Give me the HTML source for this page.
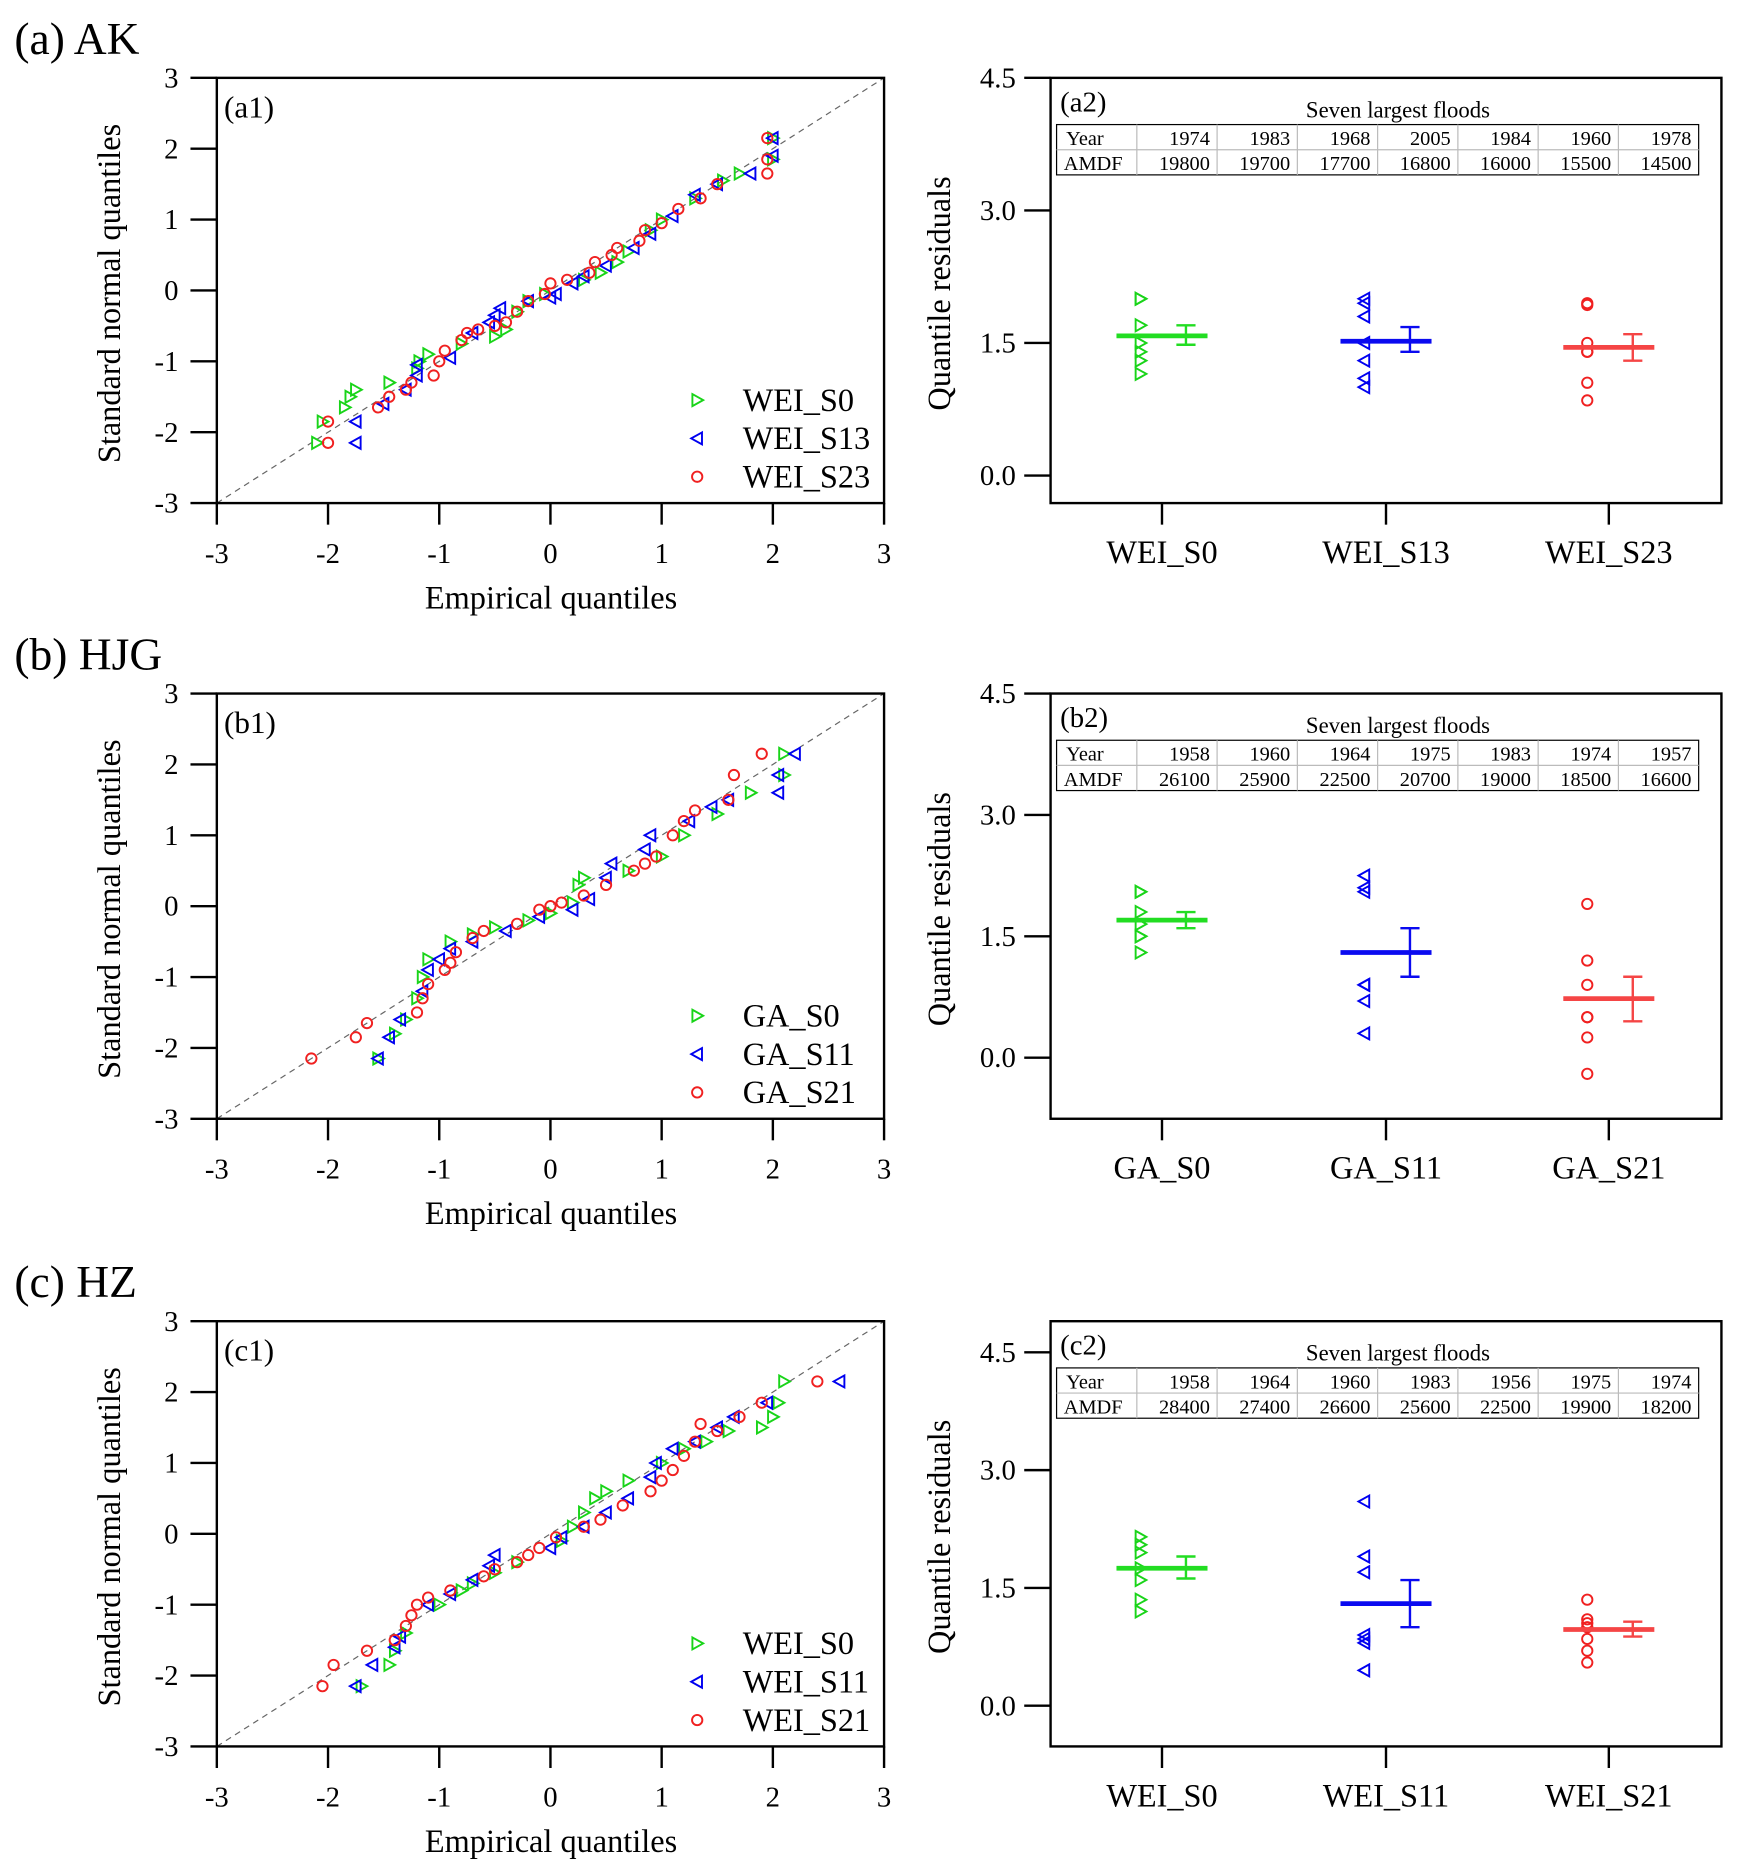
<!DOCTYPE html>
<html><head><meta charset="utf-8">
<style>
html,body{margin:0;padding:0;background:#fff;}
svg{display:block;font-family:"Liberation Serif","Times New Roman",serif;}
text{font-family:"Liberation Serif","Times New Roman",serif;fill:#000;}
</style></head>
<body>
<svg id="fig" font-family="Liberation Serif, serif" width="1737" height="1871" viewBox="0 0 1450 1562" preserveAspectRatio="none" xmlns="http://www.w3.org/2000/svg"></svg>
<script>
// ---- Data ----
const a1Green=[[-2.1,-2.15],[-2.05,-1.85],[-1.85,-1.65],[-1.8,-1.5],[-1.75,-1.4],[-1.45,-1.3],[-1.2,-1.1],[-1.18,-1.0],[-1.1,-0.9],[-0.8,-0.75],[-0.5,-0.65],[-0.4,-0.55],[-0.3,-0.3],[-0.2,-0.15],[-0.05,-0.05],[0.3,0.15],[0.45,0.25],[0.6,0.4],[0.7,0.55],[0.9,0.85],[1.0,1.0],[1.3,1.3],[1.55,1.55],[1.7,1.65],[2.0,1.85],[2.0,2.15]];
const a1Blue=[[-1.75,-2.15],[-1.75,-1.85],[-1.5,-1.6],[-1.3,-1.4],[-1.2,-1.2],[-1.2,-1.05],[-0.9,-0.95],[-0.7,-0.6],[-0.55,-0.45],[-0.5,-0.35],[-0.45,-0.25],[-0.2,-0.15],[0,-0.1],[0.05,-0.05],[0.2,0.1],[0.3,0.2],[0.5,0.35],[0.75,0.6],[0.9,0.8],[1.1,1.05],[1.3,1.35],[1.5,1.5],[1.8,1.65],[2.0,1.9],[2.0,2.15]];
const a1Red=[[-2.0,-2.15],[-2.0,-1.85],[-1.55,-1.65],[-1.45,-1.5],[-1.3,-1.4],[-1.25,-1.3],[-1.05,-1.2],[-1.0,-1.0],[-0.95,-0.85],[-0.8,-0.7],[-0.75,-0.6],[-0.65,-0.55],[-0.5,-0.5],[-0.4,-0.45],[-0.3,-0.3],[-0.2,-0.15],[-0.05,-0.05],[0.0,0.1],[0.15,0.15],[0.35,0.25],[0.4,0.4],[0.55,0.5],[0.6,0.6],[0.8,0.7],[0.85,0.85],[1.0,0.95],[1.15,1.15],[1.35,1.3],[1.5,1.5],[1.95,1.65],[1.95,1.85],[1.95,2.15]];
const b1Green=[[-1.55,-2.15],[-1.4,-1.8],[-1.3,-1.6],[-1.2,-1.3],[-1.15,-1.0],[-1.1,-0.75],[-0.9,-0.5],[-0.7,-0.4],[-0.5,-0.3],[-0.2,-0.2],[0.0,-0.1],[0.2,0.05],[0.25,0.3],[0.3,0.4],[0.7,0.5],[1.0,0.7],[1.2,1.0],[1.5,1.3],[1.8,1.6],[2.1,1.85],[2.1,2.15]];
const b1Blue=[[-1.55,-2.15],[-1.45,-1.85],[-1.35,-1.6],[-1.15,-1.2],[-1.1,-0.9],[-1.0,-0.75],[-0.9,-0.6],[-0.7,-0.5],[-0.4,-0.35],[-0.1,-0.15],[0.2,-0.05],[0.35,0.1],[0.5,0.4],[0.55,0.6],[0.85,0.8],[0.9,1.0],[1.25,1.2],[1.45,1.4],[1.6,1.5],[2.05,1.6],[2.05,1.85],[2.2,2.15]];
const b1Red=[[-2.15,-2.15],[-1.75,-1.85],[-1.65,-1.65],[-1.2,-1.5],[-1.15,-1.3],[-1.1,-1.1],[-0.95,-0.9],[-0.9,-0.8],[-0.85,-0.65],[-0.7,-0.45],[-0.6,-0.35],[-0.3,-0.25],[-0.1,-0.05],[0,0],[0.1,0.05],[0.3,0.15],[0.5,0.3],[0.75,0.5],[0.85,0.6],[0.95,0.7],[1.1,1.0],[1.2,1.2],[1.3,1.35],[1.6,1.5],[1.65,1.85],[1.9,2.15]];
const c1Green=[[-1.7,-2.15],[-1.45,-1.85],[-1.4,-1.65],[-1.3,-1.4],[-1.0,-1.0],[-0.8,-0.8],[-0.7,-0.7],[-0.5,-0.55],[-0.3,-0.4],[0.1,-0.1],[0.2,0.1],[0.3,0.3],[0.4,0.5],[0.5,0.6],[0.7,0.75],[1.0,1.0],[1.2,1.2],[1.4,1.3],[1.6,1.45],[1.9,1.5],[2.0,1.65],[2.05,1.85],[2.1,2.15]];
const c1Blue=[[-1.75,-2.15],[-1.6,-1.85],[-1.4,-1.6],[-1.35,-1.45],[-1.1,-1.0],[-0.9,-0.85],[-0.7,-0.65],[-0.55,-0.45],[-0.5,-0.3],[0.0,-0.2],[0.1,-0.05],[0.3,0.1],[0.5,0.3],[0.7,0.5],[0.9,0.8],[0.95,1.0],[1.1,1.2],[1.3,1.3],[1.5,1.5],[1.65,1.65],[1.95,1.85],[2.6,2.15]];
const c1Red=[[-2.05,-2.15],[-1.95,-1.85],[-1.65,-1.65],[-1.4,-1.5],[-1.3,-1.3],[-1.25,-1.15],[-1.2,-1.0],[-1.1,-0.9],[-0.9,-0.8],[-0.6,-0.6],[-0.5,-0.5],[-0.3,-0.4],[-0.2,-0.3],[-0.1,-0.2],[0.05,-0.05],[0.3,0.1],[0.45,0.2],[0.65,0.4],[0.9,0.6],[1.0,0.75],[1.1,0.9],[1.2,1.1],[1.3,1.3],[1.35,1.55],[1.5,1.45],[1.7,1.65],[1.9,1.85],[2.4,2.15]];

const qqTicks=[-3,-2,-1,0,1,2,3];
const resTicks=[0,1.5,3,4.5];
const resTickLabels=["0.0","1.5","3.0","4.5"];

const a2Res=[[2.0,2.0,1.7,1.5,1.4,1.3,1.15],[2.0,1.95,1.8,1.5,1.3,1.1,1.0],[1.95,1.93,1.5,1.4,1.4,1.05,0.85]];
const a2Mean=[1.58,1.52,1.45];
const a2Lo=[1.48,1.4,1.3];
const a2Hi=[1.7,1.68,1.6];
const b2Res=[[2.05,2.05,1.8,1.65,1.5,1.5,1.3],[2.25,2.1,2.05,0.9,0.9,0.7,0.3],[1.9,1.2,0.9,0.5,0.5,0.25,-0.2]];
const b2Mean=[1.7,1.3,0.73];
const b2Lo=[1.6,1.0,0.45];
const b2Hi=[1.8,1.6,1.0];
const c2Res=[[2.15,2.05,1.95,1.75,1.6,1.35,1.2],[2.6,1.9,1.7,0.9,0.85,0.8,0.45],[1.35,1.1,1.05,1.0,0.85,0.7,0.55]];
const c2Mean=[1.75,1.3,0.97];
const c2Lo=[1.62,1.0,0.88];
const c2Hi=[1.9,1.6,1.07];

const aYears=["1974","1983","1968","2005","1984","1960","1978"];
const aAmdf=["19800","19700","17700","16800","16000","15500","14500"];
const bYears=["1958","1960","1964","1975","1983","1974","1957"];
const bAmdf=["26100","25900","22500","20700","19000","18500","16600"];
const cYears=["1958","1964","1960","1983","1956","1975","1974"];
const cAmdf=["28400","27400","26600","25600","22500","19900","18200"];

const aCats=["WEI_S0","WEI_S13","WEI_S23"];
const bCats=["GA_S0","GA_S11","GA_S21"];
const cCats=["WEI_S0","WEI_S11","WEI_S21"];

// ---- Drawing ----
const NS="http://www.w3.org/2000/svg";
const svg=document.getElementById('fig');
const FONT='Liberation Serif, serif';
const COL=["#19d419","#0000f0","#f02020"];
const MCOL=["#22dd22","#0a0af0","#f54545"];
function el(tag,attrs,parent,txt){const e=document.createElementNS(NS,tag);for(const k in attrs)e.setAttribute(k,attrs[k]);if(tag==='text')e.setAttribute('font-family',FONT);if(txt!==undefined)e.textContent=txt;(parent||svg).appendChild(e);return e;}

function marker(g,kind,x,y,c){
  let m;
  if(kind===0){m=el('polygon',{points:`${x-4},${y-5} ${x+5},${y} ${x-4},${y+5}`,fill:'none',stroke:c,'stroke-width':1.6},g);}
  else if(kind===1){m=el('polygon',{points:`${x+4},${y-5} ${x-5},${y} ${x+4},${y+5}`,fill:'none',stroke:c,'stroke-width':1.6},g);}
  else {m=el('circle',{cx:x,cy:y,r:4.3,fill:'none',stroke:c,'stroke-width':1.6},g);}
  return m;
}

function qqPanel(id,top,tag,series,names){
  const L=181,R=738,T=top,B=top+355;
  const sx=v=>L+(v+3)/6*(R-L), sy=v=>B-(v+3)/6*(B-T);
  const g=el('g',{},svg);
  
  
  const dl=el('line',{x1:sx(-3),y1:sy(-3),x2:sx(3),y2:sy(3),stroke:'#666','stroke-width':1,'stroke-dasharray':'5,4'},g);
  
  
  qqTicks.forEach(t=>{
    el('line',{x1:sx(t),y1:B,x2:sx(t),y2:B+18,stroke:'#000','stroke-width':2},g);
    const xl=el('text',{x:sx(t),y:B+50,'font-size':24,'text-anchor':'middle'},g,String(t));
    
    
    el('line',{x1:L-22,y1:sy(t),x2:L,y2:sy(t),stroke:'#000','stroke-width':2},g);
    const yl=el('text',{x:L-32,y:sy(t)+8,'font-size':24,'text-anchor':'end'},g,String(t));
    
    
  });
  series.forEach((s,k)=>{
    s.forEach(p=>{
      const m=marker(g,k,sx(p[0]),sy(p[1]),COL[k]);
      
      
    });
    const ly=T+269+k*32;
    const lm=marker(g,k,582,ly,COL[k]);
    
    
    const lt=el('text',{x:620,y:ly+9,'font-size':27},g,names[k]);
    
    
  });
  const box=el('rect',{x:L,y:T,width:R-L,height:B-T,fill:'none',stroke:'#000','stroke-width':2},g);
  
  
  const pl=el('text',{x:187,y:T+33,'font-size':26},g,'('+tag+'1)');
  
  
  const xt=el('text',{x:460,y:B+88,'font-size':27,'text-anchor':'middle'},g,'Empirical quantiles');
  
  
  const yt=el('text',{x:0,y:0,'font-size':27,'text-anchor':'middle',transform:`translate(100,${T+180}) rotate(-90)`},g,'Standard normal quantiles');
  
  
}

function resPanel(id,top,tag,y0px,y45px,res,mean,lo,hi,years,amdf,cats){
  const L=877,R=1437,T=top,B=top+355;
  const sy=v=>y0px+(y45px-y0px)*v/4.5;
  const catX=[970,1157,1343];
  const g=el('g',{},svg);
  
  
  resTicks.forEach((t,i)=>{
    el('line',{x1:L-22,y1:sy(t),x2:L,y2:sy(t),stroke:'#000','stroke-width':2},g);
    const yl=el('text',{x:L-29,y:sy(t)+8,'font-size':24,'text-anchor':'end'},g,resTickLabels[i]);
    
    
  });
  cats.forEach((c,i)=>{
    const cx=catX[i];
    el('line',{x1:cx,y1:B,x2:cx,y2:B+18,stroke:'#000','stroke-width':2},g);
    const cl=el('text',{x:cx,y:B+50,'font-size':27,'text-anchor':'middle'},g,c);
    
    
    res[i].forEach(v=>{
      const m=marker(g,i,cx-18,sy(v),COL[i]);
      
      
    });
    const ml=el('line',{x1:cx-38,y1:sy(mean[i]),x2:cx+38,y2:sy(mean[i]),stroke:MCOL[i],'stroke-width':4},g);
    
    
    const ex=cx+20;
    const eb=el('path',{d:`M${ex},${sy(lo[i])}V${sy(hi[i])}M${ex-8},${sy(lo[i])}H${ex+8}M${ex-8},${sy(hi[i])}H${ex+8}`,stroke:MCOL[i],'stroke-width':2,fill:'none'},g);
    
    
  });
  const box=el('rect',{x:L,y:T,width:R-L,height:B-T,fill:'none',stroke:'#000','stroke-width':2},g);
  
  
  const pl=el('text',{x:885,y:T+28,'font-size':24},g,'('+tag+'2)');
  
  
  const tt=el('text',{x:1167,y:T+33,'font-size':19,'text-anchor':'middle'},g,'Seven largest floods');
  
  
  const tx=882,tw=536,ty=T+39,rh=21;
  const tg=el('g',{},g);
  
  
  el('rect',{x:tx,y:ty,width:tw,height:rh*2,fill:'#fff',stroke:'#000','stroke-width':1},tg);
  el('line',{x1:tx,y1:ty+rh,x2:tx+tw,y2:ty+rh,stroke:'#bbb','stroke-width':1},tg);
  const cw=tw/8;
  for(let i=1;i<8;i++) el('line',{x1:tx+cw*i,y1:ty,x2:tx+cw*i,y2:ty+rh*2,stroke:'#bbb','stroke-width':1},tg);
  el('text',{x:tx+8,y:ty+17,'font-size':17},tg,'Year');
  el('text',{x:tx+6,y:ty+rh+17,'font-size':17},tg,'AMDF');
  years.forEach((v,i)=>{
    const t=el('text',{x:tx+cw*(i+2)-6,y:ty+17,'font-size':17,'text-anchor':'end'},tg,v);
    
    
  });
  amdf.forEach((v,i)=>{
    const t=el('text',{x:tx+cw*(i+2)-6,y:ty+rh+17,'font-size':17,'text-anchor':'end'},tg,v);
    
    
  });
  const yt=el('text',{x:0,y:0,'font-size':27,'text-anchor':'middle',transform:`translate(793,${T+180}) rotate(-90)`},g,'Quantile residuals');
  
  
}

function header(txt,y,name){
  const t=el('text',{x:12,y:y,'font-size':38},svg,txt);
  
  
}
header('(a) AK',45,'section-title-ak');
header('(b) HJG',559,'section-title-hjg');
header('(c) HZ',1083,'section-title-hz');

qqPanel('a1',65,'a',[a1Green,a1Blue,a1Red],['WEI_S0','WEI_S13','WEI_S23']);
qqPanel('b1',579,'b',[b1Green,b1Blue,b1Red],['GA_S0','GA_S11','GA_S21']);
qqPanel('c1',1103,'c',[c1Green,c1Blue,c1Red],['WEI_S0','WEI_S11','WEI_S21']);

resPanel('a2',65,'a',397,65,a2Res,a2Mean,a2Lo,a2Hi,aYears,aAmdf,aCats);
resPanel('b2',579,'b',883,579,b2Res,b2Mean,b2Lo,b2Hi,bYears,bAmdf,bCats);
resPanel('c2',1103,'c',1424,1129,c2Res,c2Mean,c2Lo,c2Hi,cYears,cAmdf,cCats);
</script>
</body></html>
